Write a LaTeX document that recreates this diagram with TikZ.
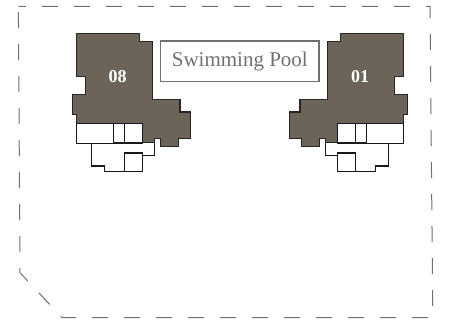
\documentclass[tikz,border=0pt]{standalone}
\usepackage{fontspec}
\setmainfont{Liberation Serif}
\definecolor{unitfill}{HTML}{6C6359}
\definecolor{sitegray}{HTML}{707070}
\definecolor{pooltext}{HTML}{707070}
\tikzset{
  unitshape/.style={draw=black!85,line width=1.2pt,fill=unitfill,line join=miter},
  roomline/.style={draw=black!90,line width=1.1pt,fill=white},
  boundary/.style={draw=sitegray,line width=1pt,dash pattern=on 16pt off 16pt,dash phase=8.5pt},
  poolbox/.style={draw=sitegray,line width=1.2pt,fill=white,minimum width=158.3pt,minimum height=40.7pt,inner sep=0pt},
  poollabel/.style={text=pooltext,font=\fontsize{21}{23}\selectfont},
  unitlabel/.style={text=white,font=\bfseries\fontsize{18}{20}\selectfont}
}
\newcommand{\drawunit}{%
  \path[roomline] (91.7,143) -- (91.7,166) -- (104.7,166) -- (104.7,171.7) -- (142.7,171.7)
    -- (142.7,155.7) -- (154.7,155.7) -- (154.7,138) -- (142.7,138) -- (142.7,143) -- cycle;
  \path[roomline] (124.3,153) rectangle (142.7,171.7);
  \path[unitshape] (76.7,33.7) -- (139.3,33.7) -- (139.3,41.3) -- (152.7,41.3) -- (152.7,99.3)
    -- (180,99.3) -- (180,112) -- (190.3,112) -- (190.3,138.3) -- (178.7,138.3) -- (178.7,146.7)
    -- (160.3,146.7) -- (160.3,138.3) -- (154.7,138.3) -- (154.7,142.3) -- (142.7,142.3)
    -- (142.7,123.7) -- (76.7,123.7) -- (76.7,114.7) -- (72.7,114.7) -- (72.7,94.3) -- (85.7,94.3)
    -- (85.7,76.7) -- (76.7,76.7) -- cycle;
  \path[roomline] (76.7,123.7) rectangle (113.3,143.7);
  \path[roomline] (113.3,123.7) rectangle (124.3,142.3);
  \path[roomline] (124.3,123.7) rectangle (142.7,142.3);
}
\begin{document}
\begin{tikzpicture}[x=1pt,y=-1pt]
  \useasboundingbox (0,0) rectangle (455,324);
  \path[boundary] (18.4,6.3) -- (430,6.3) -- (432.8,317.5) -- (62,317.5) -- (20,272.7) -- cycle;
  \begin{scope}
    \drawunit
  \end{scope}
  \begin{scope}[xshift=480pt,xscale=-1]
    \drawunit
  \end{scope}
  \node[poolbox] (pool) at (239.8,61.3) {};
  \node[poollabel] (poolname) at (pool.center) {Swimming Pool};
  \node[unitlabel] (uniteight) at (117.5,77) {08};
  \node[unitlabel] (unitone) at (360,77) {01};
\end{tikzpicture}
\end{document}
